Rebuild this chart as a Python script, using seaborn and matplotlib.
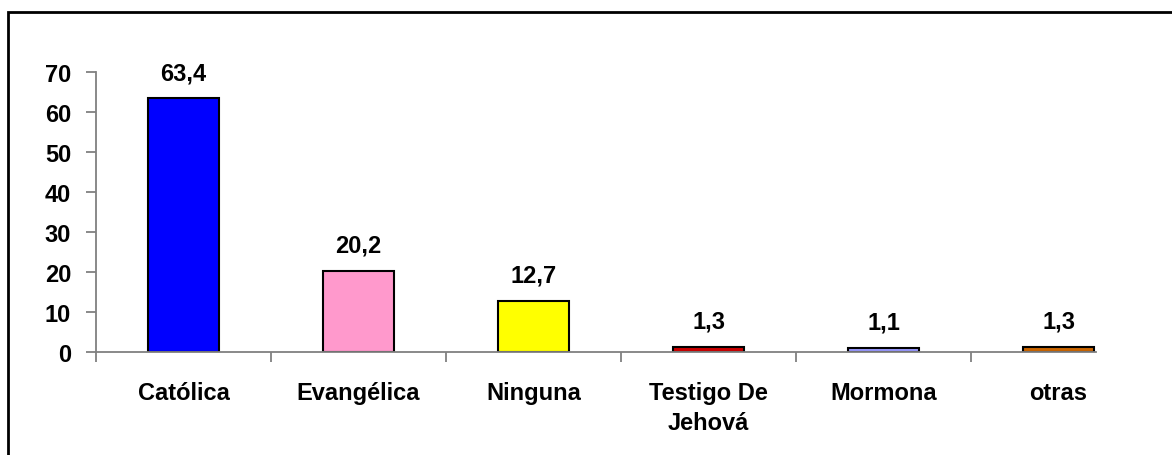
import matplotlib
matplotlib.use("Agg")
import matplotlib.pyplot as plt
import matplotlib.patches as patches
from matplotlib.ticker import FixedLocator, MultipleLocator
import seaborn as sns
import numpy as np

# data
categories = ["Católica", "Evangélica", "Ninguna", "Testigo De\nJehová", "Mormona", "otras"]
values = [63.4, 20.2, 12.7, 1.3, 1.1, 1.3]
bar_colors = ["#0000FF", "#FF99CC", "#FFFF00", "#CC0000", "#9999FF", "#CC6600"]

sns.set_style("white")
plt.rcParams['font.family'] = ['Liberation Sans', 'DejaVu Sans']
plt.rcParams['font.weight'] = 'bold'
plt.rcParams['text.color'] = 'black'
plt.rcParams['xtick.color'] = 'black'
plt.rcParams['ytick.color'] = 'black'

W, H = 1172, 456
FS = 17
fig = plt.figure(figsize=(W / 100, H / 100), dpi=100)
ax = fig.add_axes([96 / W, (H - 353) / H, (1096 - 96) / W, (353 - 73) / H])

sns.barplot(x=categories, y=values, hue=categories, palette=bar_colors, legend=False,
            width=71 / 175, edgecolor="black", linewidth=1.5, saturation=1, ax=ax)

ax.set_xlim(-0.5, -0.5 + 1000 / 175)
ax.set_ylim(0, 70)
ax.yaxis.set_major_locator(MultipleLocator(10))

# value labels above bars
for i, v in enumerate(values):
    ax.text(i, v + 3.6, f"{v:.1f}".replace(".", ","), ha="center", va="bottom",
            fontsize=FS, fontweight="bold", color="black")

for s in ["top", "right"]:
    ax.spines[s].set_visible(False)
for s in ["left", "bottom"]:
    ax.spines[s].set_color("#808080")
    ax.spines[s].set_linewidth(1.3)

ax.tick_params(axis="y", direction="out", length=7, width=1.3, color="#808080",
               labelcolor="black", labelsize=FS, pad=11, left=True)
ax.tick_params(axis="x", which="major", length=0, labelsize=FS, labelcolor="black", pad=21)
ax.xaxis.set_minor_locator(FixedLocator(np.arange(-0.5, 5.5, 1.0)))
ax.tick_params(axis="x", which="minor", direction="out", length=7, width=1.3,
               color="#808080", bottom=True)
for lbl in ax.get_xticklabels() + ax.get_yticklabels():
    lbl.set_fontweight("bold")
    lbl.set_linespacing(1.4)
ax.set_xlabel("")
ax.set_ylabel("")

# outer chart frame (cropped at right and bottom in the reference)
frame = patches.Rectangle((8 / W, -0.2), 1.2, (H - 13) / H + 0.2, transform=fig.transFigure,
                          fill=False, edgecolor="black", linewidth=2, clip_on=False)
fig.patches.append(frame)

fig.savefig("out.png", dpi=100)
